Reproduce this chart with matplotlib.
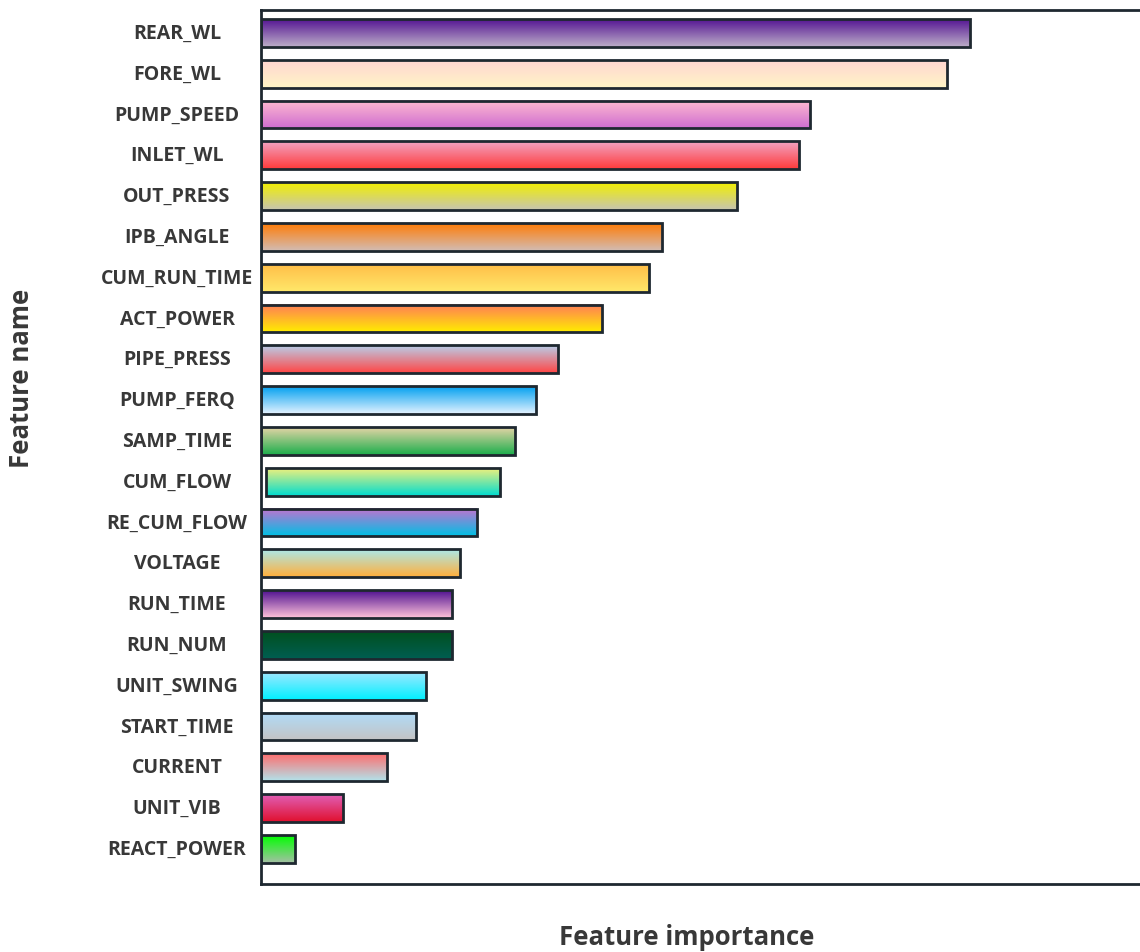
import numpy as np
import matplotlib
matplotlib.use("Agg")
import matplotlib.pyplot as plt
from matplotlib.colors import to_rgb
import matplotlib.transforms as mtransforms

plt.rcParams['font.family'] = ['Open Sans', 'DejaVu Sans']

# Feature names, top to bottom
features = ["REAR_WL", "FORE_WL", "PUMP_SPEED", "INLET_WL", "OUT_PRESS", "IPB_ANGLE",
            "CUM_RUN_TIME", "ACT_POWER", "PIPE_PRESS", "PUMP_FERQ", "SAMP_TIME",
            "CUM_FLOW", "RE_CUM_FLOW", "VOLTAGE", "RUN_TIME", "RUN_NUM", "UNIT_SWING",
            "START_TIME", "CURRENT", "UNIT_VIB", "REACT_POWER"]

# Importance scores
importance = [7.09, 6.86, 5.49, 5.38, 4.76, 4.01, 3.88, 3.41, 2.97, 2.75, 2.54,
              2.39, 2.16, 1.99, 1.91, 1.91, 1.65, 1.55, 1.26, 0.82, 0.34]

# Bar start (CUM_FLOW starts a bit off the axis)
starts = [0, 0, 0, 0, 0, 0, 0, 0, 0, 0, 0, 0.05, 0, 0, 0, 0, 0, 0, 0, 0, 0]

# Gradient colours for each bar: (top, bottom)
gradients = [
    ("#551593", "#bcaec8"),
    ("#ffd6d2", "#fff5c6"),
    ("#ffbad0", "#cf6ed0"),
    ("#f2a4c4", "#ff3b3b"),
    ("#f2f000", "#c6c4b0"),
    ("#ff7c06", "#d2bcb4"),
    ("#ffbe48", "#ffe86a"),
    ("#ff7c58", "#ffec00"),
    ("#b8cfea", "#ff4646"),
    ("#00a0f0", "#e4f2ff"),
    ("#e4d4a6", "#1cae4c"),
    ("#f0f07c", "#00dcd0"),
    ("#c472d0", "#00c0e4"),
    ("#ace8ea", "#ffb03c"),
    ("#4e1090", "#ffc2da"),
    ("#00501e", "#005e52"),
    ("#9ee8ff", "#00f0ff"),
    ("#b0dcfa", "#c4c4c4"),
    ("#ff6c6c", "#b2e2ea"),
    ("#e060b8", "#e0102e"),
    ("#00ff00", "#a4c0a4"),
]

edge = "#1e2830"
text_col = "#383838"

fig = plt.figure(figsize=(11.4, 9.53), dpi=100)
ax = fig.add_axes([261 / 1140, 1 - 885 / 953, 900 / 1140, 874 / 953])

y = np.arange(len(features))
height = 0.68
for i in range(len(features)):
    x0 = starts[i]
    x1 = importance[i]
    top = np.array(to_rgb(gradients[i][0]))
    bot = np.array(to_rgb(gradients[i][1]))
    t = np.linspace(0, 1, 64)[:, None]
    grad = (top * (1 - t) + bot * t)[:, None, :]
    ax.imshow(grad, extent=(x0, x1, y[i] + height / 2, y[i] - height / 2),
              aspect='auto', origin='upper', interpolation='bilinear', zorder=2)
    ax.barh(y[i], x1 - x0, left=x0, height=height, facecolor='none',
            edgecolor=edge, linewidth=2.0, zorder=3)

ax.set_xlim(0, 9.0)
ax.set_ylim(20.86, -0.56)
ax.set_xticks([])
ax.set_yticks([])

for s in ['left', 'top', 'bottom']:
    ax.spines[s].set_color(edge)
    ax.spines[s].set_linewidth(2.0)
ax.spines['right'].set_visible(False)

# Feature names to the left of the axis
trans = mtransforms.blended_transform_factory(fig.transFigure, ax.transData)
for i, name in enumerate(features):
    ax.text(177 / 1140, y[i], name, transform=trans, ha='center', va='center',
            fontsize=14, fontweight='bold', color=text_col)

fig.text(22 / 1140, 1 - 378 / 953, "Feature name", rotation=90, ha='center',
         va='center', fontsize=18.5, fontweight='bold', color=text_col)
fig.text(687 / 1140, 1 - 938 / 953, "Feature importance", ha='center',
         va='center', fontsize=18.5, fontweight='bold', color=text_col)

fig.savefig("out.png", dpi=100)
